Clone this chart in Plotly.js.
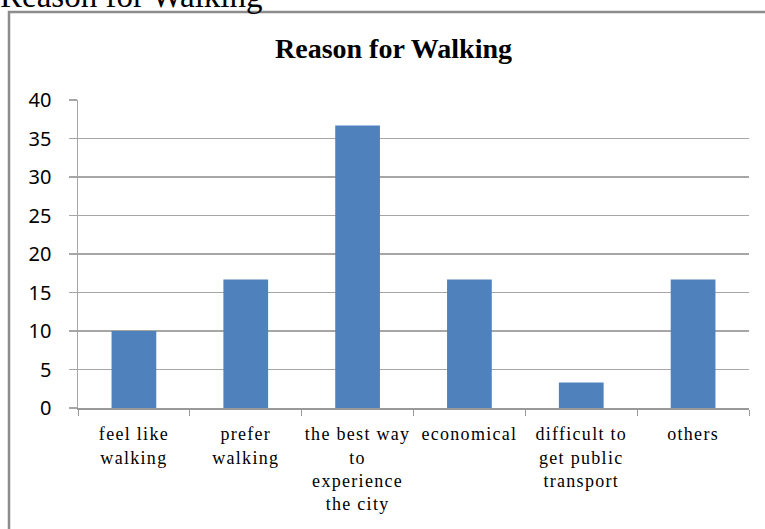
<!DOCTYPE html>
<html>
<head>
<meta charset="utf-8">
<script src="https://cdn.plot.ly/plotly-3.0.1.min.js"></script>
<style>
html,body{margin:0;padding:0;background:#fff;}
#chart{width:765px;height:529px;}
#chart .xtick text{letter-spacing:1.3px;}
</style>
</head>
<body>
<div id="chart"></div>
<script>
const categories = ["feel like<br>walking", "prefer<br>walking", "the best way<br>to<br>experience<br>the city", "economical", "difficult to<br>get public<br>transport", "others"];
const values = [10, 16.7, 36.7, 16.7, 3.3, 16.7];
const yTicks = [0, 5, 10, 15, 20, 25, 30, 35, 40];

const W = 765, H = 529;
const m = {l: 78, r: 16, t: 100, b: 121};
const pw = W - m.l - m.r, ph = H - m.t - m.b;
const px = x => (x - m.l) / pw;
const py = y => 1 - (y - m.t) / ph;

const trace = {
  type: 'bar',
  x: categories,
  y: values,
  marker: {color: '#4f81bd', line: {width: 0}},
  hoverinfo: 'skip'
};

const layout = {
  width: W, height: H,
  margin: m,
  paper_bgcolor: '#fff',
  plot_bgcolor: '#fff',
  bargap: 0.6,
  showlegend: false,
  xaxis: {
    type: 'category',
    tickson: 'boundaries',
    ticks: 'outside', ticklen: 6, tickcolor: '#999', tickwidth: 1,
    showline: true, linecolor: '#999', linewidth: 1.5,
    showgrid: false, zeroline: false,
    ticklabelstandoff: 9,
    tickfont: {family: 'Liberation Serif, Times New Roman, serif', size: 18, color: '#000'},
    tickangle: 0,
    fixedrange: true
  },
  yaxis: {
    range: [0, 40],
    tickvals: yTicks,
    ticktext: yTicks.map(String),
    ticks: 'outside', ticklen: 8, tickcolor: '#a6a6a6', tickwidth: 1.5,
    showline: true, linecolor: '#a6a6a6', linewidth: 1.5,
    showgrid: true, gridcolor: '#a6a6a6', gridwidth: 1.5,
    zeroline: false,
    ticklabelstandoff: 13,
    tickfont: {family: 'Noto Sans, Open Sans, sans-serif', size: 20, color: '#000'},
    fixedrange: true
  },
  shapes: [{
    type: 'rect', xref: 'paper', yref: 'paper',
    x0: px(9), x1: px(800), y0: py(12), y1: py(560),
    line: {color: '#8c8c8c', width: 2.5}, fillcolor: 'rgba(0,0,0,0)', layer: 'below'
  }],
  annotations: [{
    text: '<b>Reason for Walking</b>',
    xref: 'paper', yref: 'paper',
    x: px(393), xanchor: 'center',
    y: py(48), yanchor: 'middle',
    showarrow: false,
    font: {family: 'Liberation Serif, Times New Roman, serif', size: 28, color: '#000'}
  }, {
    text: 'Reason for Walking',
    xref: 'paper', yref: 'paper',
    x: px(-2), xanchor: 'left',
    y: py(16), yanchor: 'bottom',
    showarrow: false,
    font: {family: 'Liberation Serif, Times New Roman, serif', size: 33, color: '#000'}
  }]
};

Plotly.newPlot('chart', [trace], layout, {displayModeBar: false, staticPlot: true});
</script>
</body>
</html>
